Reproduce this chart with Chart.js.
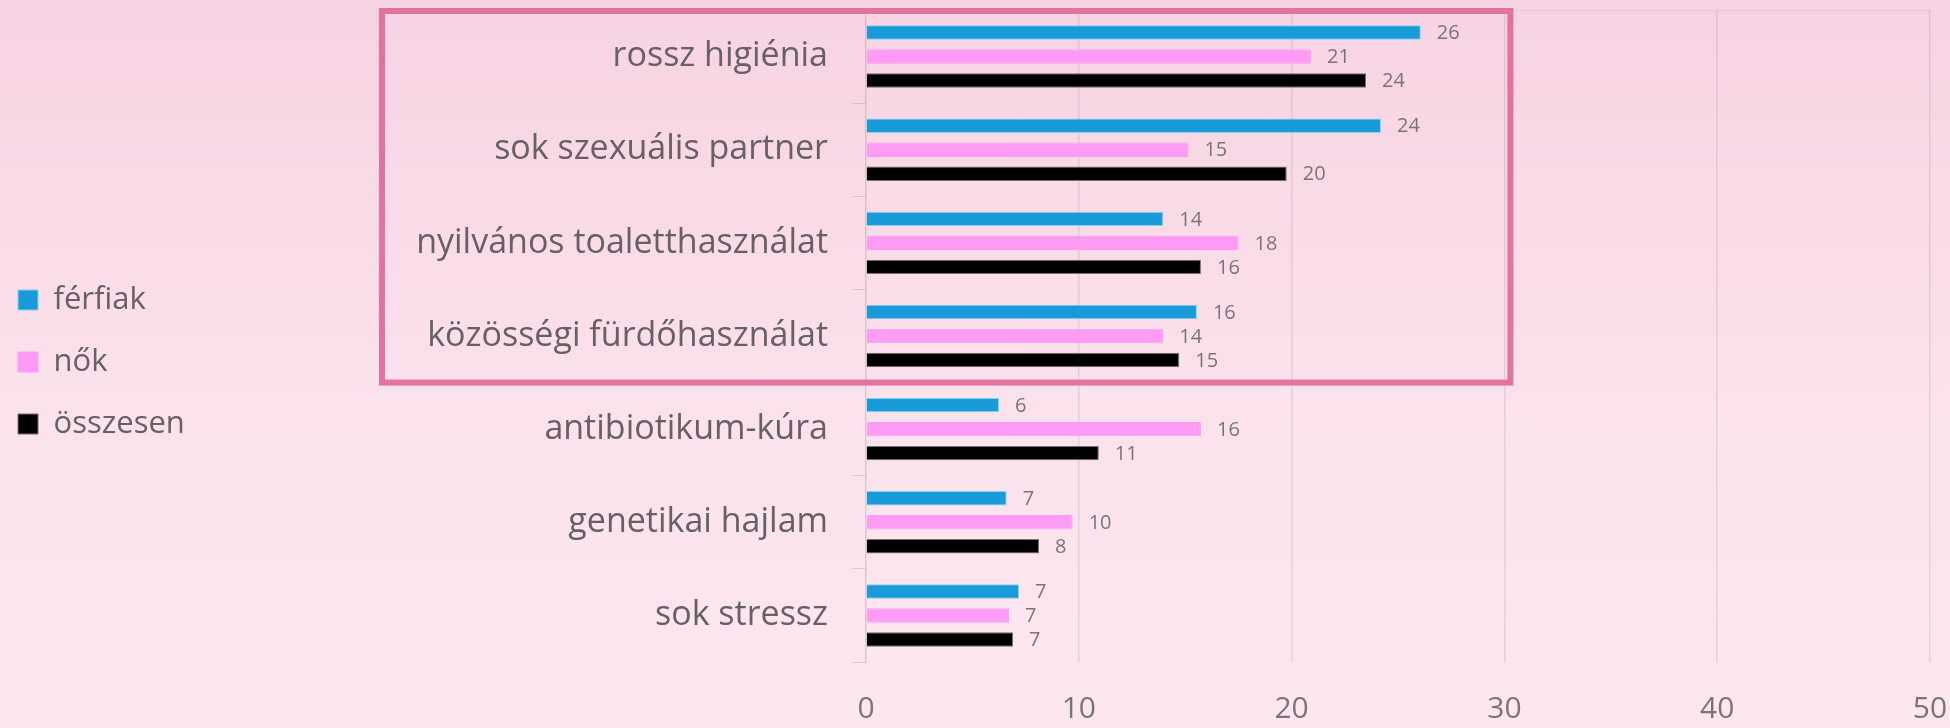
<!DOCTYPE html>
<html lang="hu">
<head>
<meta charset="utf-8">
<title>Okok</title>
<script src="https://cdn.jsdelivr.net/npm/chart.js@4.4.1/dist/chart.umd.min.js"></script>
<style>
    html, body {
        margin: 0;
        padding: 0;
        overflow: hidden;
    }
    body {
        width: 1950px;
        height: 728px;
        background: linear-gradient(to bottom, #f7d3e2 0%, #fbe2ec 55%, #fce7f0 100%);
    }
    #wrap {
        position: relative;
        width: 1950px;
        height: 728px;
    }
</style>
</head>
<body>
<div id="wrap"><canvas id="causes-chart"></canvas></div>
<script>
// Categories, top to bottom
const categories = [
    'rossz higiénia',
    'sok szexuális partner',
    'nyilvános toaletthasználat',
    'közösségi fürdőhasználat',
    'antibiotikum-kúra',
    'genetikai hajlam',
    'sok stressz'
];

// Series (labels are rounded)
const ferfiak = [26.07, 24.2, 13.97, 15.55, 6.25, 6.61, 7.19];
const nok = [20.91, 15.15, 17.51, 13.97, 15.74, 9.71, 6.72];
const osszesen = [23.5, 19.77, 15.74, 14.72, 10.94, 8.13, 6.91];

const seriesNames = ['férfiak', 'nők', 'összesen'];
const xTicks = [0, 10, 20, 30, 40, 50];

// Layout helpers
const PAD_LEFT = -13;
const AXIS_X = 866;
const X_AXIS_HEIGHT = 66;
const FONT = "'Open Sans', 'Noto Sans', sans-serif";

Chart.defaults.font.family = FONT;

/**
 * Value labels at the end of each bar
 */
const valueLabels = {
    id: 'valueLabels',
    afterDatasetsDraw(chart) {
        const ctx = chart.ctx;
        ctx.save();
        ctx.font = `20px ${FONT}`;
        ctx.fillStyle = '#7a7478';
        ctx.textAlign = 'left';
        ctx.textBaseline = 'middle';
        chart.data.datasets.forEach((ds, i) => {
            const meta = chart.getDatasetMeta(i);
            meta.data.forEach((bar, j) => {
                ctx.fillText(String(Math.round(ds.data[j])), bar.x + 16, bar.y + 1);
            });
        });
        ctx.restore();
    }
};

/**
 * Pink highlight frame around the first four causes
 */
const highlightFrame = {
    id: 'highlightFrame',
    afterDraw(chart) {
        const { ctx, scales: { x, y } } = chart;
        const top = chart.chartArea.top + 1;
        const bottom = (y.getPixelForValue(3) + y.getPixelForValue(4)) / 2;
        const left = 382;
        const right = x.getPixelForValue(30) + 6;
        ctx.save();
        ctx.strokeStyle = '#e2729f';
        ctx.lineWidth = 6;
        ctx.strokeRect(left, top, right - left, bottom - top);
        ctx.restore();
    }
};

/**
 * Legend sits a little above the vertical centre
 */
const legendNudge = {
    id: 'legendNudge',
    afterLayout(chart) {
        if (!chart.legend) return;
        chart.legend.top -= 7;
        chart.legend.bottom -= 7;
    }
};

const canvas = document.getElementById('causes-chart');

new Chart(canvas.getContext('2d'), {
    type: 'bar',
    data: {
        labels: categories,
        datasets: [
            {
                label: seriesNames[0],
                data: ferfiak,
                backgroundColor: '#189bd8',
                borderColor: '#86d2f2',
                borderWidth: 1
            },
            {
                label: seriesNames[1],
                data: nok,
                backgroundColor: '#fe9cf5',
                borderColor: '#fe9cf5',
                borderWidth: 1
            },
            {
                label: seriesNames[2],
                data: osszesen,
                backgroundColor: '#000000',
                borderColor: '#7d6d74',
                borderWidth: 1
            }
        ]
    },
    options: {
        indexAxis: 'y',
        responsive: true,
        maintainAspectRatio: false,
        animation: false,
        categoryPercentage: 0.773,
        barPercentage: 0.6,
        layout: {
            padding: { left: PAD_LEFT, right: 20, top: 10, bottom: 0 }
        },
        scales: {
            x: {
                min: 0,
                max: 50,
                afterBuildTicks(scale) {
                    scale.ticks = xTicks.map(v => ({ value: v }));
                },
                afterFit(scale) {
                    // let layout padding decide the edges, fixed strip for the labels
                    scale.paddingLeft = 0;
                    scale.paddingRight = 0;
                    scale.height = X_AXIS_HEIGHT;
                },
                border: { display: false },
                grid: {
                    drawTicks: false,
                    color: ctx => (ctx.index === 0 ? 'rgba(0,0,0,0)' : 'rgba(120, 100, 110, 0.16)'),
                    lineWidth: 1.5
                },
                ticks: {
                    padding: 29,
                    color: '#7a7478',
                    font: { size: 30 }
                }
            },
            y: {
                afterFit(scale) {
                    const legendWidth = scale.chart.legend ? scale.chart.legend.width : 0;
                    scale.width = AXIS_X - (PAD_LEFT + legendWidth);
                    scale.paddingTop = 0;
                    scale.paddingBottom = 0;
                },
                border: { color: 'rgba(120, 100, 110, 0.22)', width: 1.5 },
                grid: {
                    tickLength: 14,
                    color: ctx => (ctx.index === 0 ? 'rgba(120, 100, 110, 0.12)' : 'rgba(0,0,0,0)'),
                    tickColor: ctx => (ctx.index === 0 ? 'rgba(0,0,0,0)' : 'rgba(120, 100, 110, 0.22)')
                },
                ticks: {
                    padding: 24,
                    color: '#676065',
                    font: { size: 34 }
                }
            }
        },
        plugins: {
            legend: {
                display: true,
                position: 'left',
                align: 'center',
                labels: {
                    boxWidth: 20,
                    boxHeight: 20,
                    padding: 31,
                    color: '#676065',
                    font: { size: 31 }
                }
            },
            tooltip: { enabled: false }
        }
    },
    plugins: [valueLabels, highlightFrame, legendNudge]
});
</script>
</body>
</html>
